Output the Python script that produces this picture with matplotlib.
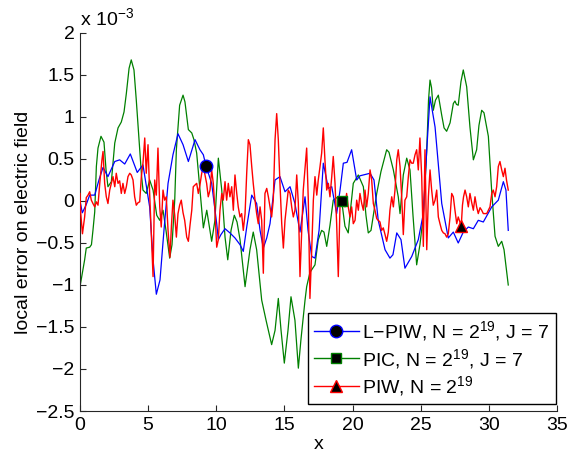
import numpy as np
import matplotlib
matplotlib.use("Agg")
import matplotlib.pyplot as plt
from matplotlib.ticker import FuncFormatter, MultipleLocator
from matplotlib.lines import Line2D

plt.rcParams['font.family'] = ['Liberation Sans', 'DejaVu Sans']
plt.rcParams['mathtext.fontset'] = 'custom'
plt.rcParams['mathtext.rm'] = 'Liberation Sans'
plt.rcParams['mathtext.default'] = 'regular'

SCALE = 1e-3  # values below are in units of 1e-3

# L-PIW, N = 2^19, J = 7 (blue)
lpiw_x = [0, 0.17, 0.44, 0.71, 1.08, 1.39, 1.69, 2.05, 2.55, 2.91, 3.28, 3.69, 4.20, 4.62, 5.11, 5.36,
          5.60, 5.87, 6.16, 6.46, 6.82, 7.19, 7.56, 7.95, 8.44, 8.80, 9.05, 9.24, 9.66, 10.03, 10.15,
          10.34, 10.64, 11.0, 11.37, 11.74, 11.98, 12.25, 12.60, 12.96, 13.21, 13.45, 13.70, 13.94,
          14.31, 14.67, 15.04, 15.41, 15.77, 16.14, 16.51, 16.73, 17.0, 17.24, 17.54, 17.85, 18.22,
          18.47, 18.83, 19.08, 19.32, 19.59, 19.93, 20.30, 20.54, 20.79, 21.28, 21.57, 21.88, 22.38,
          22.74, 22.96, 23.24, 23.55, 23.84, 24.34, 24.82, 25.19, 25.44, 25.68, 26.05, 26.54, 27.02,
          27.39, 27.75, 28.12, 28.49, 28.86, 29.22, 29.59, 30.21, 30.69, 31.06, 31.25, 31.42]
lpiw_y = [0, -0.14, -0.05, 0.07, 0.07, 0.25, 0.40, 0.29, 0.47, 0.49, 0.44, 0.56, 0.34, 0.43, -0.07, -0.70,
          -1.11, -0.94, -0.35, 0.21, 0.55, 0.80, 0.67, 0.47, 0.73, 0.61, 0.55, 0.42, 0.21, -0.27, -0.46,
          -0.40, -0.33, -0.38, -0.44, -0.52, -0.60, -0.29, 0.07, -0.03, -0.35, -0.56, -0.44, -0.27,
          0.25, 0.29, 0.11, 0.17, -0.03, -0.37, 0.05, -0.35, -0.66, -0.68, -0.35, 0.45, 0.15,
          0.17, -0.15, 0.13, 0.45, 0.46, 0.61, 0.25, 0.30, 0.31, 0.33, 0.25, -0.23, -0.58,
          -0.68, -0.64, -0.38, -0.46, -0.80, -0.66, -0.46, -0.15, 0.61, 1.24, 0.88, -0.03, -0.44,
          -0.37, -0.50, -0.37, -0.31, -0.33, -0.23, -0.25, -0.07, 0.01, 0.23, 0.13, -0.35]

# PIC, N = 2^19, J = 7 (green)
pic_x = [0, 0.15, 0.34, 0.46, 0.71, 0.84, 0.95, 1.08, 1.20, 1.32, 1.54, 1.76, 1.91, 2.05, 2.30, 2.55,
         2.79, 3.03, 3.23, 3.40, 3.60, 3.76, 3.96, 4.13, 4.26, 4.38, 4.51, 4.62, 4.86, 5.11, 5.36,
         5.63, 5.85, 6.09, 6.31, 6.58, 6.75, 6.95, 7.07, 7.31, 7.56, 7.70, 7.95, 8.20, 8.36, 8.56,
         8.80, 9.05, 9.30, 9.66, 9.90, 10.15, 10.40, 10.64, 10.84, 11.08, 11.32, 11.52, 11.74, 12.11,
         12.47, 12.71, 12.96, 13.33, 13.65, 14.06, 14.31, 14.55, 14.75, 14.99, 15.26, 15.48, 15.77,
         16.02, 16.21, 16.51, 16.63, 16.87, 17.24, 17.48, 17.73, 17.90, 18.10, 18.34, 18.58, 18.83,
         19.20, 19.44, 19.68, 19.88, 20.05, 20.42, 20.79, 20.98, 21.15, 21.35, 21.77, 22.08, 22.50,
         22.67, 22.99, 23.35, 23.48, 23.72, 23.97, 24.21, 24.43, 24.70, 24.94, 25.19, 25.44, 25.57,
         25.68, 25.79, 25.92, 26.08, 26.29, 26.54, 26.71, 26.90, 27.15, 27.39, 27.51, 27.62, 27.75,
         27.95, 28.12, 28.37, 28.61, 28.86, 29.10, 29.27, 29.47, 29.64, 29.96, 30.20, 30.45, 30.69,
         30.94, 31.11, 31.42]
pic_y = [-1.02, -0.88, -0.70, -0.56, -0.55, -0.52, -0.35, -0.13, 0.41, 0.63, 0.77, 0.70, 0.37, 0.17, 0.23, 0.69,
         0.87, 0.94, 1.06, 1.28, 1.58, 1.68, 1.56, 1.20, 0.90, 0.61, 0.31, 0.13, 0.09, 0.25, 0.13,
         -0.17, -0.23, -0.11, -0.35, -0.68, -0.52, 0.01, 0.61, 1.14, 1.26, 1.18, 0.85, 0.81, 0.73, 0.57,
         0.13, -0.32, -0.11, -0.48, -0.23, 0.51, 0.13, -0.43, -0.70, -0.35, -0.17, -0.25, -0.46, -1.02,
         -0.58, -0.37, -0.58, -1.18, -1.42, -1.71, -1.54, -1.16, -1.54, -1.93, -1.54, -1.14, -1.42,
         -1.99, -1.65, -1.18, -1.02, -0.85, -0.76, -0.46, -0.35, -0.37, -0.54, -0.29, 0.01, 0.04,
         0.00, -0.30, -0.38, -0.05, 0.21, 0.31, 0.17, -0.17, -0.38, -0.35, 0.09, 0.35, 0.61,
         0.58, 0.37, 0.05, -0.15, 0.31, 0.51, 0.37, -0.17, -0.76, -0.52, -0.17, 0.61, 1.20,
         1.44, 1.35, 1.08, 1.20, 1.26, 1.02, 0.87, 0.83, 0.93, 1.16, 1.19, 1.15, 1.14,
         1.42, 1.56, 1.36, 0.88, 0.49, 0.61, 0.90, 1.08, 1.05, 0.77, 0.13, -0.42, -0.54,
         -0.48, -0.58, -1.00]

# PIW, N = 2^19 (red)
piw_x = [0, 0.05, 0.18, 0.34, 0.46, 0.59, 0.71, 0.83, 0.95, 1.08, 1.20, 1.32, 1.45, 1.61, 1.69, 1.81,
         1.93, 2.05, 2.18, 2.30, 2.42, 2.55, 2.66, 2.79, 2.91, 3.03, 3.15, 3.28, 3.40, 3.52, 3.65,
         3.76, 3.89, 4.01, 4.13, 4.26, 4.38, 4.50, 4.62, 4.75, 4.86, 4.99, 5.11, 5.25, 5.36, 5.48,
         5.60, 5.72, 5.85, 5.96, 6.09, 6.21, 6.33, 6.46, 6.60, 6.71, 6.82, 6.95, 7.07, 7.19, 7.31,
         7.43, 7.56, 7.68, 7.83, 7.95, 8.07, 8.20, 8.31, 8.44, 8.56, 8.68, 8.80, 8.93, 9.05, 9.17,
         9.29, 9.41, 9.54, 9.66, 9.78, 9.90, 10.03, 10.15, 10.27, 10.40, 10.51, 10.64, 10.76, 10.88,
         11.0, 11.13, 11.25, 11.37, 11.50, 11.61, 11.74, 11.86, 11.98, 12.11, 12.23, 12.35, 12.47,
         12.60, 12.71, 12.84, 12.96, 13.08, 13.21, 13.33, 13.45, 13.57, 13.70, 13.82, 13.94, 14.06,
         14.18, 14.31, 14.43, 14.55, 14.67, 14.80, 14.92, 15.04, 15.16, 15.28, 15.41, 15.53, 15.65,
         15.77, 15.90, 16.02, 16.14, 16.27, 16.38, 16.51, 16.63, 16.75, 16.87, 17.0, 17.12, 17.24,
         17.37, 17.48, 17.61, 17.73, 17.85, 17.97, 18.10, 18.22, 18.34, 18.47, 18.58, 18.71, 18.83,
         18.95, 19.08, 19.20, 19.32, 19.44, 19.56, 19.68, 19.81, 19.93, 20.05, 20.18, 20.30, 20.42,
         20.54, 20.67, 20.79, 20.91, 21.03, 21.15, 21.28, 21.40, 21.52, 21.64, 21.77, 21.88, 22.01,
         22.13, 22.25, 22.38, 22.50, 22.62, 22.74, 22.87, 22.99, 23.11, 23.24, 23.35, 23.48, 23.60,
         23.72, 23.84, 23.97, 24.09, 24.21, 24.33, 24.45, 24.58, 24.70, 24.82, 24.94, 25.07, 25.19,
         25.31, 25.44, 25.56, 25.68, 25.80, 25.92, 26.05, 26.17, 26.29, 26.41, 26.54, 26.66, 26.78,
         26.90, 27.02, 27.15, 27.27, 27.39, 27.51, 27.64, 27.75, 27.97, 28.06, 28.14, 28.25, 28.37,
         28.49, 28.61, 28.74, 28.86, 28.98, 29.10, 29.22, 29.35, 29.47, 29.59, 29.71, 29.84, 29.96,
         30.08, 30.21, 30.32, 30.45, 30.57, 30.69, 30.81, 30.94, 31.06, 31.18, 31.29, 31.42]
piw_y = [0.09, -0.14, -0.39, -0.19, 0.04, 0.07, 0.11, 0.01, -0.03, -0.07, -0.01, -0.05, 0.21, 0.49, 0.59, 0.21,
         0.05, -0.03, 0.13, 0.21, 0.29, 0.17, 0.33, 0.21, 0.24, 0.09, 0.21, 0.09, 0.17, 0.29, 0.33,
         0.31, 0.25, 0.05, -0.05, -0.02, -0.01, 0.29, 0.45, 0.75, 0.33, 0.67, 0.09, -0.46, -0.90, 0.25,
         0.07, 0.63, -0.07, -0.31, 0.13, 0.01, 0.05, -0.35, -0.67, -0.29, 0.01, -0.17, -0.43, -0.15, -0.05,
         0.01, -0.14, -0.23, -0.43, -0.48, -0.29, -0.11, 0.17, 0.19, 0.21, 0.09, 0.19, 0.33, 0.41, 0.31,
         0.21, 0.05, 0.13, 0.37, 0.21, -0.11, -0.55, -0.46, -0.11, 0.09, 0.01, 0.23, 0.01, 0.21,
         0.05, 0.17, -0.11, 0.31, 0.09, -0.07, -0.19, -0.15, -0.35, -0.15, 0.33, 0.73, 0.67,
         0.41, 0.21, 0.01, -0.15, -0.27, -0.07, -0.23, -0.86, 0.09, 0.15, 0.05, -0.07, -0.19,
         0.01, 0.73, 1.04, 0.73, 0.21, -0.27, -0.56, -0.23, -0.05, 0.13, 0.09, -0.07, -0.19,
         -0.11, 0.31, -0.03, -0.90, -0.35, 0.13, 0.39, 0.63, 0.01, -1.16, -0.58, 0.01, 0.29,
         0.07, 0.25, 0.41, 0.57, 0.87, 0.49, 0.13, 0.21, 0.05, 0.29, 0.53, 0.21, -0.27,
         -0.90, -0.03, 0.01, 0.01, -0.07, 0.09, -0.07, -0.19, -0.07, -0.27, -0.23, 0.01, -0.11,
         0.09, -0.03, -0.11, 0.13, -0.07, 0.09, 0.37, 0.25, -0.03, -0.11, -0.21, -0.23, -0.25,
         -0.35, -0.32, -0.40, -0.48, -0.37, -0.11, 0.05, -0.07, 0.13, 0.49, 0.61, 0.41, 0.05,
         -0.40, 0.01, 0.05, 0.29, 0.49, 0.45, 0.45, 0.55, 0.61, 0.37, 0.75, 0.29, -0.54,
         0.61, -0.58, 0.05, 0.37, 0.13, -0.05, 0.01, 0.13, -0.19, -0.27, -0.35, -0.38, -0.39,
         -0.43, -0.39, -0.19, 0.09, 0.05, -0.11, -0.27, -0.19, -0.30, -0.05, 0.05, 0.13, 0.05,
         -0.07, 0.09, -0.02, -0.11, 0.05, -0.07, -0.15, -0.08, -0.11, -0.15, -0.15, -0.15, -0.11,
         -0.07, 0.09, 0.13, 0.05, 0.17, 0.41, 0.47, 0.37, 0.29, 0.39, 0.25, 0.13]

# marker positions (x) on each curve
lpiw_mark_x = 9.24
pic_mark_x = 19.2
piw_mark_x = 27.97

labels = ['L\u2212PIW, N = 2$^{19}$, J = 7', 'PIC, N = 2$^{19}$, J = 7', 'PIW, N = 2$^{19}$']
colors = ['#0000ff', '#008000', '#ff0000']

FS = 14

fig = plt.figure(figsize=(5.69, 4.55), dpi=100)
ax = fig.add_axes([0.1406, 0.0967, 0.8384, 0.8308])

series = [(lpiw_x, lpiw_y, lpiw_mark_x, 'o'), (pic_x, pic_y, pic_mark_x, 's'), (piw_x, piw_y, piw_mark_x, '^')]
zorders = [2.4, 2.0, 2.6]
for i in [1, 0, 2]:
    xs, ys, mx, mk = series[i]
    ax.plot(np.array(xs), np.array(ys) * SCALE, color=colors[i], lw=0.9 if i < 2 else 1.0,
            zorder=zorders[i])

handles = []
for i in range(3):
    xs, ys, mx, mk = series[i]
    ms = 9 if mk != 's' else 7
    ax.plot([mx], [np.interp(mx, xs, ys) * SCALE], marker=mk, ls='none', ms=ms,
            mfc='black', mec=colors[i], mew=1.0, zorder=5)
    handles.append(Line2D([], [], color=colors[i], lw=1.0, marker=mk, ms=ms,
                          mfc='black', mec=colors[i], mew=1.0))

ax.set_xlim(0, 35)
ax.set_ylim(-2.5e-3, 2e-3)
ax.xaxis.set_major_locator(MultipleLocator(5))
ax.yaxis.set_major_locator(MultipleLocator(0.5e-3))
ax.yaxis.set_major_formatter(FuncFormatter(lambda v, p: f"{v/SCALE:g}".replace('-', '\u2212')))
ax.tick_params(direction='in', length=4, labelsize=FS, width=0.8, colors='#262626',
               labelcolor='black', pad=4)
ax.spines['top'].set_visible(False)
ax.spines['right'].set_visible(False)
for s in ['left', 'bottom']:
    ax.spines[s].set_linewidth(0.8)
    ax.spines[s].set_color('#262626')

ax.set_xlabel('x', fontsize=FS, labelpad=2)
ax.set_ylabel('local error on electric field', fontsize=FS, labelpad=3)
fig.text(80 / 569, 1 - 25 / 455, 'x 10$^{\u22123}$', fontsize=FS, ha='left', va='baseline')

leg = ax.legend(handles, labels, loc='upper left', bbox_to_anchor=(0.478, 0.259),
                fontsize=FS, frameon=True, fancybox=False, framealpha=1, edgecolor='black',
                handlelength=2.3, handletextpad=0.2, labelspacing=0.2, borderpad=0.3,
                borderaxespad=0)
leg.get_frame().set_linewidth(1.0)

fig.savefig('out.png', dpi=100)
